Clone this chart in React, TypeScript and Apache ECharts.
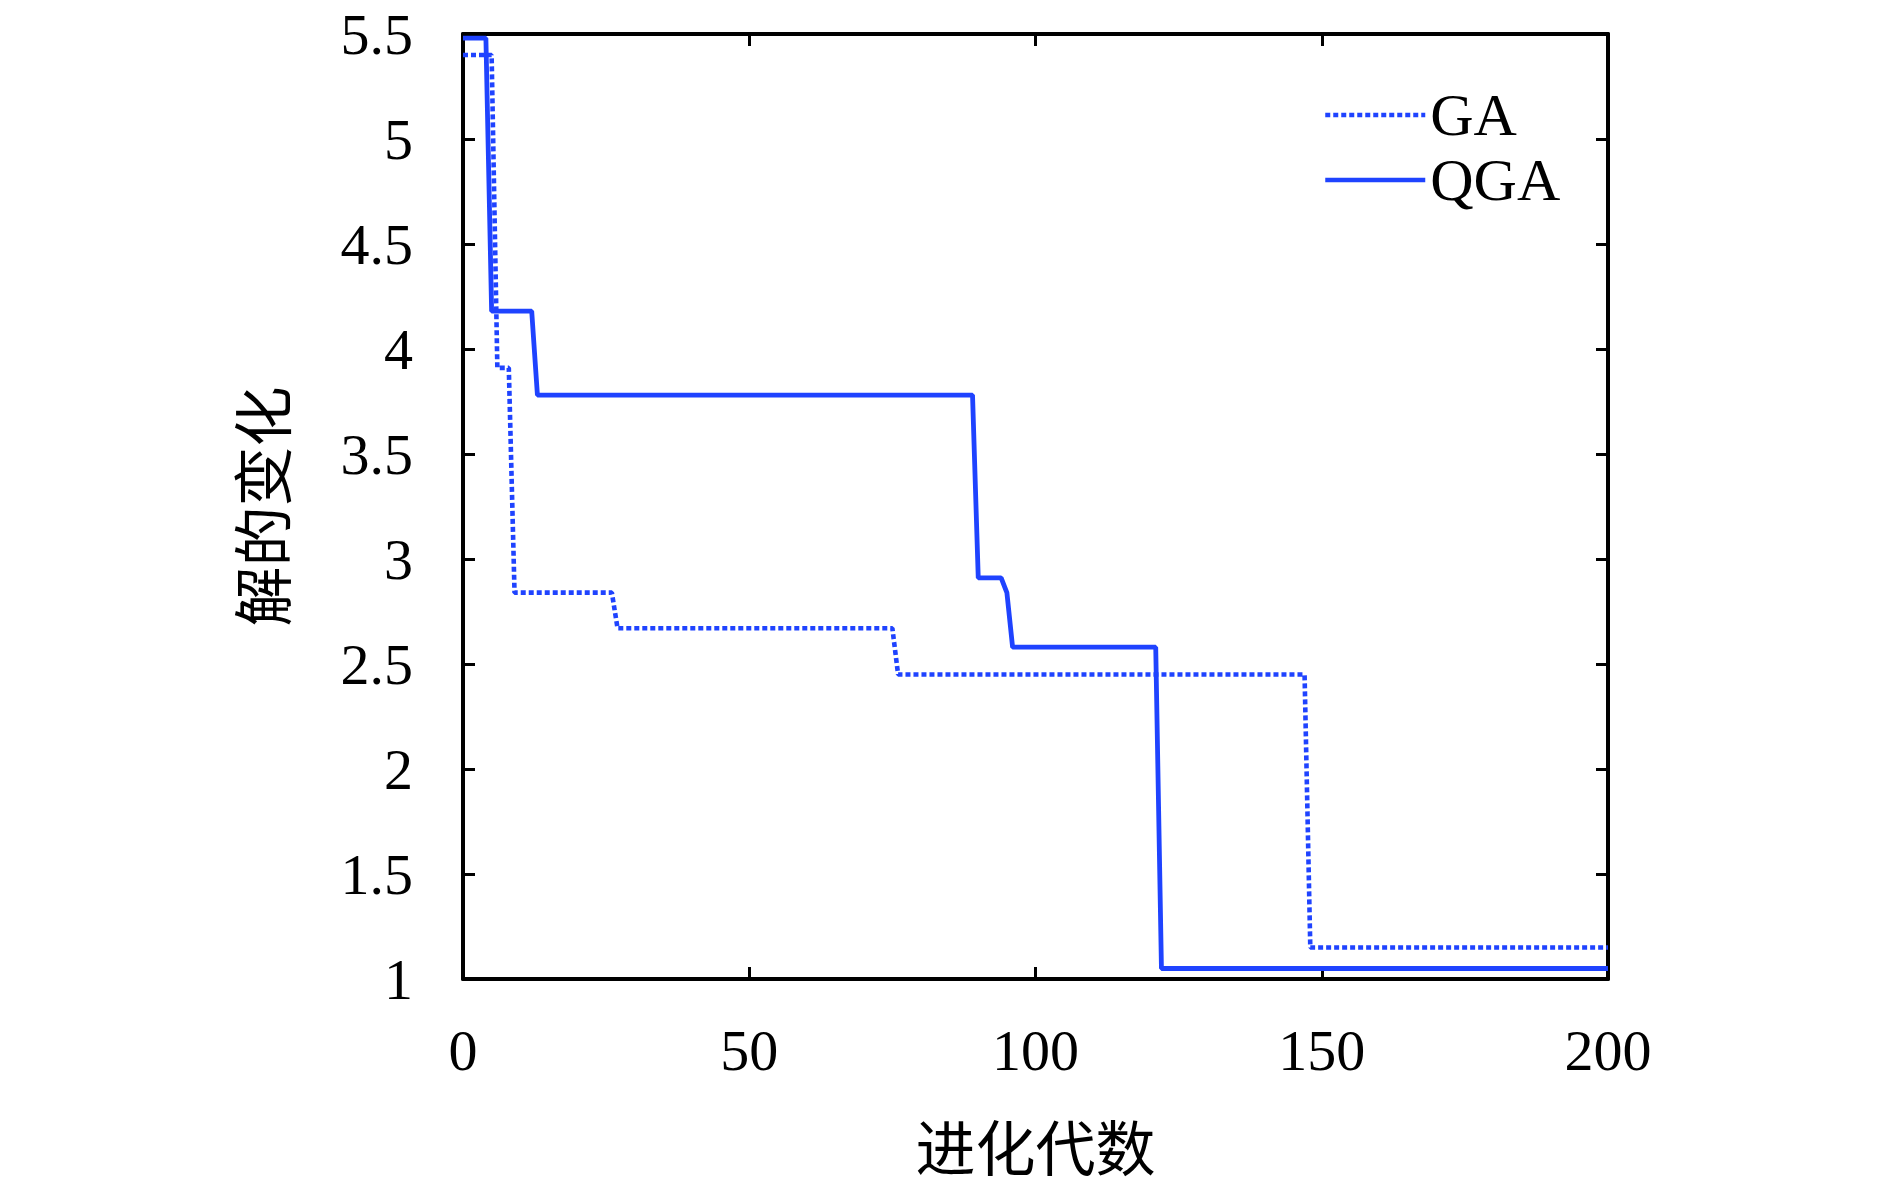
import React, { useEffect, useRef } from "react";
import * as echarts from "echarts";

const seriesNames = ["GA", "QGA"];
// [generation, best value] at the generations where the value changes
const gaData: [number, number][] = [
  [0, 5.4], [5, 5.4], [6, 3.91], [8, 3.91], [9, 2.84], [26, 2.84], [27, 2.67],
  [75, 2.67], [76, 2.45], [147, 2.45], [148, 1.15], [200, 1.15],
];
const qgaData: [number, number][] = [
  [0, 5.48], [4, 5.48], [5, 4.18], [12, 4.18], [13, 3.78], [89, 3.78], [90, 2.91],
  [94, 2.91], [95, 2.84], [96, 2.58], [121, 2.58], [122, 1.05], [200, 1.05],
];
const xName = "进化代数";
const yName = "解的变化";
const xRange = [0, 200, 50];
const yRange = [1, 5.5, 0.5];

const LINE_COLOR = "#1f43ff";
const FONT = '"Liberation Serif", "Times New Roman", "Noto Sans CJK SC", serif';

export default function App() {
  const ref = useRef<HTMLDivElement>(null);
  useEffect(() => {
    document.body.style.margin = "0";
    if (!ref.current) return;
    const chart = echarts.init(ref.current, undefined, { renderer: "svg" });
    const axisLine = { show: true, onZero: false, lineStyle: { color: "#000", width: 4 } };
    const axisTick = { show: true, inside: true, length: 12, lineStyle: { color: "#000", width: 3 } };
    chart.setOption({
      animation: false,
      backgroundColor: "#fff",
      grid: { left: 463, right: 282, top: 34, bottom: 201, containLabel: false },
      legend: {
        orient: "vertical",
        left: 1318,
        top: 80,
        itemWidth: 100,
        itemHeight: 20,
        itemGap: 5,
        data: seriesNames,
        itemStyle: { opacity: 0 },
        lineStyle: { width: 4.5 },
        textStyle: { fontFamily: FONT, fontSize: 60, color: "#000", lineHeight: 60 },
      },
      xAxis: [
        {
          type: "value",
          min: xRange[0],
          max: xRange[1],
          interval: xRange[2],
          name: xName,
          nameLocation: "middle",
          nameGap: 142,
          nameTextStyle: { fontFamily: FONT, fontSize: 60, color: "#000" },
          axisLine,
          axisTick,
          splitLine: { show: false },
          axisLabel: { fontFamily: FONT, fontSize: 58, color: "#000", margin: 42 },
        },
        {
          type: "value",
          position: "top",
          min: xRange[0],
          max: xRange[1],
          interval: xRange[2],
          axisLine,
          axisTick,
          splitLine: { show: false },
          axisLabel: { show: false },
        },
      ],
      yAxis: [
        {
          type: "value",
          min: yRange[0],
          max: yRange[1],
          interval: yRange[2],
          name: yName,
          nameLocation: "middle",
          nameGap: 167,
          nameTextStyle: { fontFamily: FONT, fontSize: 60, color: "#000" },
          axisLine,
          axisTick,
          splitLine: { show: false },
          axisLabel: {
            fontFamily: FONT,
            fontSize: 58,
            color: "#000",
            margin: 50,
            padding: [0, 0, 8, 0],
          },
        },
        {
          type: "value",
          position: "right",
          min: yRange[0],
          max: yRange[1],
          interval: yRange[2],
          axisLine,
          axisTick,
          splitLine: { show: false },
          axisLabel: { show: false },
        },
      ],
      series: [
        {
          name: seriesNames[0],
          type: "line",
          data: gaData,
          symbol: "none",
          showSymbol: false,
          lineStyle: { color: LINE_COLOR, width: 4.6, type: [5, 3] },
          itemStyle: { color: LINE_COLOR },
        },
        {
          name: seriesNames[1],
          type: "line",
          data: qgaData,
          symbol: "none",
          showSymbol: false,
          lineStyle: { color: LINE_COLOR, width: 4.8, type: "solid" },
          itemStyle: { color: LINE_COLOR },
        },
      ],
    });
    return () => chart.dispose();
  }, []);
  return <div ref={ref} style={{ width: 1890, height: 1186 }} />;
}
